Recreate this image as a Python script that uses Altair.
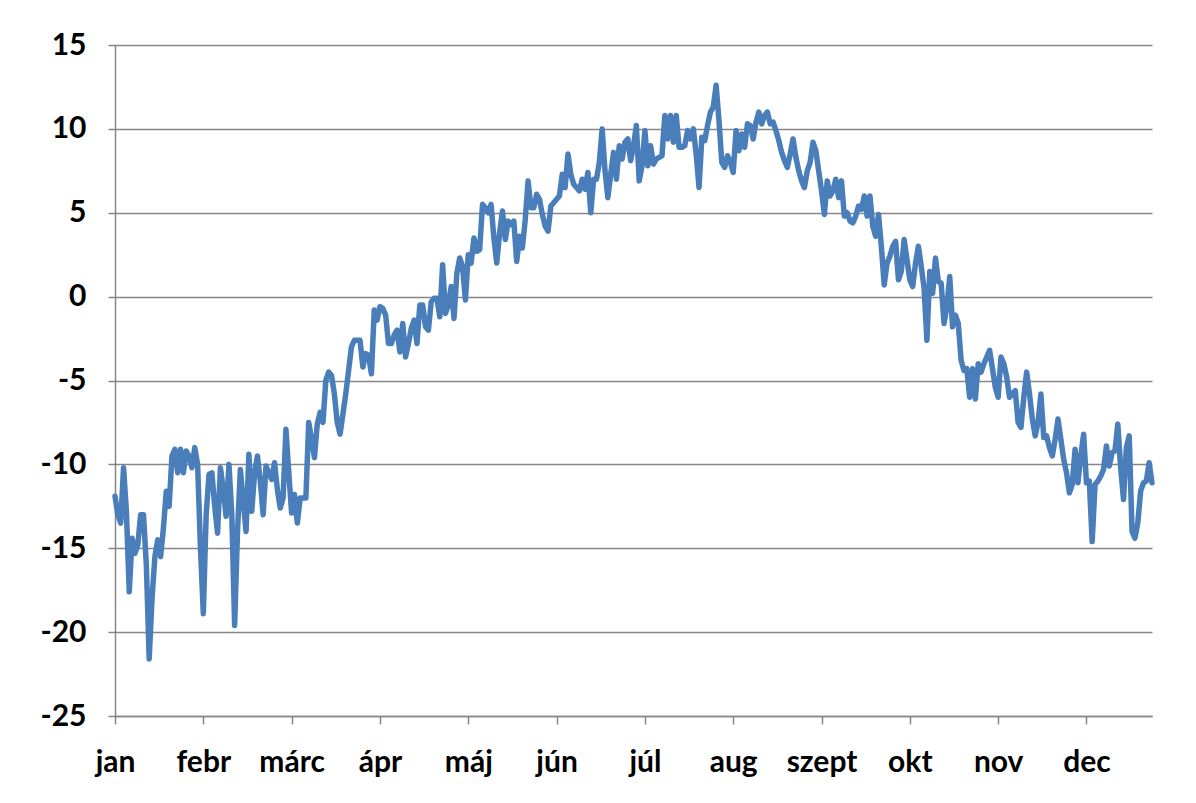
import altair as alt
import pandas as pd

months = ["jan", "febr", "márc", "ápr", "máj", "jún", "júl", "aug", "szept", "okt", "nov", "dec"]

jan = [-11.9, -13.0, -13.5, -10.2, -12.8, -17.6, -14.4, -15.3, -14.8, -13.0, -13.0, -16.0, -21.6, -18.0, -15.5, -14.5,
       -15.5, -13.8, -11.6, -12.5, -9.5, -9.1, -10.5, -9.1, -10.5, -9.2, -9.5, -10.2, -9.0, -10.0, -15.0]
feb = [-18.9, -13.0, -10.6, -10.5, -12.5, -14.1, -10.2, -11.5, -13.1, -10.0, -13.0, -19.6, -14.0, -10.3, -12.2, -14.0,
       -9.4, -12.8, -10.5, -9.5, -11.0, -13.0, -10.1, -10.5, -10.9, -9.9, -11.5, -12.6, -12.0, -7.9, -10.5]
mar = [-12.9, -11.8, -13.5, -12.0, -12.0, -12.0, -7.5, -8.5, -9.6, -7.6, -6.9, -7.5, -5.0, -4.5, -4.7, -5.8,
       -7.5, -8.2, -7.0, -5.8, -4.4, -3.0, -2.6, -2.6, -2.6, -4.2, -3.4, -3.5, -4.6, -0.8, -1.4]
apr = [-0.6, -0.7, -1.1, -2.8, -2.8, -2.3, -2.0, -3.3, -1.6, -3.6, -2.8, -1.9, -1.4, -2.8, -0.5, -0.5,
       -1.8, -2.0, -0.3, -0.1, -0.1, -1.2, 1.9, -1.0, -0.5, 0.6, -1.3, 1.4, 2.3, 1.8, -0.2]
may = [2.5, 2.0, 3.5, 2.7, 2.8, 5.5, 5.3, 5.0, 5.5, 3.5, 2.0, 3.8, 5.1, 3.4, 4.5, 4.3,
       4.5, 2.1, 3.6, 2.9, 4.6, 6.9, 5.3, 5.3, 6.1, 5.8, 4.9, 4.2, 3.9, 5.4, 5.6]
jun = [5.8, 6.0, 7.3, 6.5, 8.5, 7.3, 6.7, 6.5, 6.3, 7.0, 6.4, 7.4, 5.0, 7.0, 7.0, 8.0,
       10.0, 7.5, 5.9, 7.3, 8.6, 7.0, 9.0, 8.2, 9.2, 9.4, 8.1, 9.0, 10.2, 6.9, 7.8]
jul = [9.9, 7.8, 9.0, 7.9, 8.2, 8.3, 8.4, 10.8, 9.4, 10.8, 9.2, 10.8, 8.9, 8.9, 9.0, 9.9,
       9.4, 10.0, 8.5, 6.5, 9.5, 9.3, 10.2, 11.0, 11.3, 12.6, 10.5, 8.0, 7.7, 8.4, 8.0]
aug = [7.4, 9.9, 8.7, 9.7, 8.9, 10.3, 10.2, 9.4, 10.4, 11.0, 10.3, 10.8, 11.0, 10.3, 10.4, 9.9,
       9.3, 8.6, 8.1, 7.7, 8.5, 9.4, 8.3, 7.5, 6.9, 6.5, 7.5, 8.0, 9.2, 8.7, 7.5]
sep = [6.3, 4.9, 6.9, 6.0, 6.3, 7.0, 5.9, 6.9, 4.8, 5.0, 4.5, 4.4, 4.8, 5.4, 5.2, 6.0,
       4.8, 6.0, 4.2, 3.6, 4.9, 3.0, 0.7, 2.0, 2.4, 3.0, 3.3, 1.0, 1.5, 3.4, 2.2]
oct_ = [1.0, 0.6, 2.0, 3.0, 1.8, 0.5, -2.6, 1.5, 0.2, 2.3, 0.9, 0.8, -1.6, -0.6, 1.2, -1.8,
        -1.1, -1.6, -3.8, -4.4, -4.3, -6.0, -4.3, -6.1, -4.0, -4.5, -4.0, -3.6, -3.2, -4.3, -5.4]
nov = [-6.0, -3.6, -4.0, -4.8, -6.0, -5.8, -5.6, -7.5, -7.8, -6.0, -4.5, -5.8, -7.3, -8.3, -7.5, -5.8,
       -8.4, -8.3, -9.0, -9.5, -8.5, -7.3, -8.5, -9.7, -10.5, -11.7, -11.2, -9.1, -11.1, -9.5, -8.2]
dec = [-11.1, -11.0, -14.6, -11.2, -11.0, -10.7, -10.3, -8.9, -10.1, -9.3, -9.2, -7.6,
       -10.2, -12.1, -9.0, -8.3, -14.0, -14.4, -13.5, -11.6, -11.1, -11.0, -9.9, -11.1]

y_ticks = [-25, -20, -15, -10, -5, 0, 5, 10, 15]
tick_step = 31

values = [v for m in [jan, feb, mar, apr, may, jun, jul, aug, sep, oct_, nov, dec] for v in m]
df = pd.DataFrame({"day": list(range(len(values))), "temp": values})

tick_days = [i * tick_step for i in range(len(months))]
label_expr = "[" + ",".join("'" + m + "'" for m in months) + "][round(datum.value/31)]"

FONT = "Lato"
GRAY = "#868686"

chart = (
    alt.Chart(df)
    .mark_line(color="#4A7EBB", strokeWidth=5.5, strokeJoin="round", strokeCap="round")
    .encode(
        x=alt.X(
            "day:Q",
            scale=alt.Scale(domain=[0, len(values) - 1], nice=False, zero=False),
            axis=alt.Axis(
                values=tick_days, labelExpr=label_expr, title=None, grid=False,
                tickSize=8, tickColor=GRAY, tickWidth=1.5, domainColor=GRAY, domainWidth=1.5,
                labelFont=FONT, labelFontSize=30, labelFontWeight="bold", labelColor="black",
                labelPadding=23, labelAlign="center", labelFlush=False, labelOverlap=False,
            ),
        ),
        y=alt.Y(
            "temp:Q",
            scale=alt.Scale(domain=[-25, 15], nice=False, zero=False),
            axis=alt.Axis(
                values=y_ticks, labelExpr="'' + datum.value", title=None, grid=True,
                gridColor=GRAY, gridWidth=1.5, tickSize=7, tickColor=GRAY, tickWidth=1.5,
                domainColor=GRAY, domainWidth=1.5,
                labelFont=FONT, labelFontSize=30, labelFontWeight="bold", labelColor="black",
                labelPadding=22, labelOverlap=False,
            ),
        ),
    )
    .properties(
        width=1037, height=671, autosize="none",
        padding={"left": 107, "top": 37, "right": 36, "bottom": 78},
        background="white",
    )
    .configure_view(stroke="transparent")
)

chart.save("out.html", embed_options={"renderer": "svg", "actions": False})
